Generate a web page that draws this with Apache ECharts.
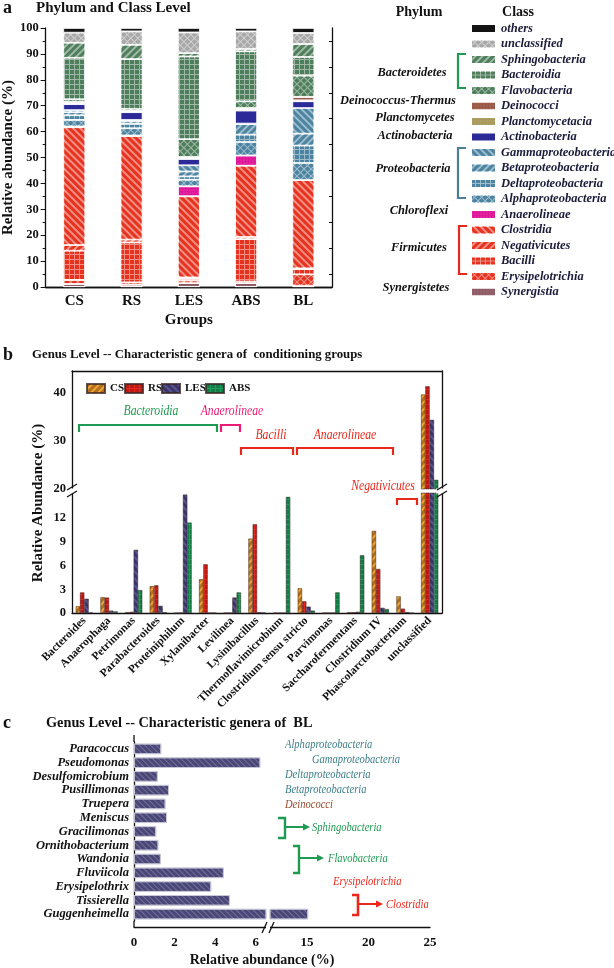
<!DOCTYPE html>
<html><head><meta charset="utf-8">
<script src="https://cdn.jsdelivr.net/npm/echarts@6/dist/echarts.min.js"></script>
<style>html,body{margin:0;padding:0;background:#fff}#c{width:614px;height:968px}</style>
</head><body><div id="c"></div>
<script>
// ---------------- DATA ----------------
// Panel a: class-level relative abundance (%), stacked bottom -> top
const groupsA = ['CS', 'RS', 'LES', 'ABS', 'BL'];
const classNames = ['Synergistia', 'Erysipelotrichia', 'Bacilli', 'Negativicutes', 'Clostridia', 'Anaerolineae',
  'Alphaproteobacteria', 'Deltaproteobacteria', 'Betaproteobacteria', 'Gammaproteobacteria', 'Actinobacteria',
  'Planctomycetacia', 'Deinococci', 'Flavobacteria', 'Bacteroidia', 'Sphingobacteria', 'unclassified', 'others'];
const classCS  = [1.2, 1.5, 11.3, 2.2, 45.5, 0.3, 2.5, 1.8, 1.2, 0.8, 2.3, 0.3, 0.6, 1.0, 16.0, 5.8, 3.9, 1.8];
const classRS  = [0.9, 0.9, 15.4, 1.1, 40.0, 0.2, 2.8, 1.8, 1.0, 0.4, 3.0, 0.3, 0.3, 0.7, 19.2, 5.5, 5.2, 1.3];
const classLES = [1.5, 1.0, 0.8, 0.4, 31.3, 3.9, 2.5, 1.3, 1.9, 2.4, 2.4, 0.4, 0.4, 6.9, 31.9, 1.3, 8.0, 1.7];
const classABS = [1.5, 0.6, 16.4, 0.8, 27.5, 4.0, 5.2, 2.8, 4.1, 0.2, 5.0, 0.5, 0.5, 2.6, 19.3, 0.9, 6.8, 1.3];
const classBL  = [0.5, 4.4, 2.0, 0.3, 34.1, 0.0, 6.6, 6.7, 4.6, 9.9, 2.6, 0.3, 1.4, 8.2, 7.2, 5.0, 4.3, 1.9];
const phylumLabels = ['Bacteroidetes', 'Deinococcus-Thermus', 'Planctomycetes', 'Actinobacteria', 'Proteobacteria', 'Chloroflexi', 'Firmicutes', 'Synergistetes'];

// Panel b: genus-level, conditioning groups (%)
const genera = ['Bacteroides', 'Anaerophaga', 'Petrimonas', 'Parabacteroides', 'Proteiniphilum', 'Xylanibacter',
  'Levilinea', 'Lysinibacillus', 'Thermoflavimicrobium', 'Clostridium sensu stricto', 'Parvimonas',
  'Saccharofermentans', 'Clostridium IV', 'Phascolarctobacterium', 'unclassified'];
const groupsB = ['CS', 'RS', 'LES', 'ABS'];
const genusCS  = [0.85, 2.0, 0.1, 3.4, 0, 4.27, 0, 9.42, 0, 3.13, 0, 0.1, 10.4, 2.1, 39.7];
const genusRS  = [2.6, 1.95, 0.15, 3.5, 0, 6.17, 0, 11.24, 0, 1.48, 0, 0.1, 5.58, 0.55, 41.4];
const genusLES = [1.8, 0.3, 8.0, 0.9, 15.0, 0, 1.95, 0.1, 0, 0.8, 0, 0.15, 0.65, 0.1, 34.4];
const genusABS = [0.05, 0.2, 2.9, 0.1, 11.45, 0, 2.6, 0.05, 14.7, 0.3, 2.6, 7.3, 0.5, 0, 21.9];
const bTicksLower = [0, 3, 6, 9, 12];
const bTicksUpper = [20, 30, 40];

// Panel c: genus-level, BL (%)
const generaBL = ['Paracoccus', 'Pseudomonas', 'Desulfomicrobium', 'Pusillimonas', 'Truepera', 'Meniscus',
  'Gracilimonas', 'Ornithobacterium', 'Wandonia', 'Fluviicola', 'Erysipelothrix', 'Tissierella', 'Guggenheimella'];
const abundBL = [1.34, 6.22, 1.17, 1.72, 1.55, 1.62, 1.09, 1.2, 1.32, 4.42, 3.8, 4.72, 15.1];
const cTicksLeft = [0, 2, 4, 6];
const cTicksRight = [15, 20, 25];

// ---------------- STYLE ----------------
const SERIF = '"Liberation Serif","Times New Roman",serif';
const F = (w, s, sz) => `${s} ${w} ${sz}px "Liberation Serif"`;
function tint(hex, t) {
  const n = parseInt(hex.slice(1), 16);
  const r = n >> 16, g = (n >> 8) & 255, b = n & 255;
  const m = c => Math.round(c + (255 - c) * t);
  return `rgb(${m(r)},${m(g)},${m(b)})`;
}
function decal(kind, color) {
  switch (kind) {
    case 'fwd': return { symbol: 'rect', symbolSize: 1, dashArrayX: [1, 0], dashArrayY: [3, 1.2], rotation: Math.PI / 4, color };
    case 'back': return { symbol: 'rect', symbolSize: 1, dashArrayX: [1, 0], dashArrayY: [3, 1.2], rotation: -Math.PI / 4, color };
    case 'grid': return { symbol: 'rect', symbolSize: 1, dashArrayX: [3.5, 1], dashArrayY: [3.5, 1], rotation: 0, color };
    case 'cross': return { symbol: 'rect', symbolSize: 1, dashArrayX: [3.5, 1], dashArrayY: [3.5, 1], rotation: Math.PI / 4, color };
    case 'dots': return { symbol: 'circle', symbolSize: 0.5, dashArrayX: [2, 1], dashArrayY: [2, 1], rotation: 0, color };
  }
  return null;
}
const GREEN = '#4f7e5c', TEAL = '#4b83a0', RED = '#e5331f';
const classColors = ['#8e5a66', RED, RED, RED, RED, '#e0169a', TEAL, TEAL, TEAL, TEAL, '#2c2a99',
  '#a99a5c', '#9c5846', GREEN, GREEN, GREEN, '#a8a8a8', '#141414'];
const classPatterns = ['dots', 'cross', 'grid', 'back', 'fwd', 'dots', 'cross', 'grid', 'back', 'fwd', 'none',
  'dots', 'dots', 'cross', 'grid', 'back', 'cross', 'none'];

function classItemStyle(i) {
  const c = classColors[i], p = classPatterns[i];
  if (p === 'none') return { color: c, borderColor: '#fff', borderWidth: 0.8 };
  if (p === 'dots') return { color: c, borderColor: '#fff', borderWidth: 0.8, decal: decal('dots', 'rgba(255,255,255,0.35)') };
  return { color: tint(c, 0.45), borderColor: '#fff', borderWidth: 0.8, decal: decal(p, c) };
}

// ---------------- SERIES ----------------
const groupArrays = [classCS, classRS, classLES, classABS, classBL];
const series = [];
classNames.forEach((name, i) => {
  series.push({
    name, type: 'bar', stack: 'a', xAxisIndex: 0, yAxisIndex: 0, barWidth: 22,
    data: groupArrays.map(g => g[i]), itemStyle: classItemStyle(i), emphasis: { disabled: true }
  });
});

const bArrays = [genusCS, genusRS, genusLES, genusABS];
const bColors = ['#f2a233', '#e3281f', '#5a558f', '#1f9f5e'];
const bDecals = [
  decal('back', 'rgba(90,50,0,0.45)'),
  decal('grid', 'rgba(120,0,0,0.35)'),
  decal('fwd', 'rgba(20,15,60,0.45)'),
  decal('grid', 'rgba(0,60,20,0.35)')
];
groupsB.forEach((name, i) => {
  const common = {
    name, type: 'bar', barWidth: 4.3, barGap: '0%', emphasis: { disabled: true },
    itemStyle: { color: bColors[i], borderColor: 'rgba(60,40,40,0.55)', borderWidth: 0.5, decal: bDecals[i] }
  };
  series.push(Object.assign({}, common, { xAxisIndex: 4, yAxisIndex: 4, data: bArrays[i].slice() }));
  series.push(Object.assign({}, common, { xAxisIndex: 2, yAxisIndex: 2, data: bArrays[i].map(v => (v > 20 ? v : null)) }));
});

const cStyle = { color: '#4a4778', borderColor: '#c8c8d8', borderWidth: 0.8,
  decal: { symbol: 'rect', symbolSize: 1, dashArrayX: [1, 0], dashArrayY: [1, 3], rotation: Math.PI / 4, color: 'rgba(255,255,255,0.22)' } };
series.push({ name: 'BL', type: 'bar', xAxisIndex: 5, yAxisIndex: 6, barWidth: 10.5, data: abundBL.slice(), itemStyle: cStyle, emphasis: { disabled: true } });
series.push({ name: 'BL', type: 'bar', xAxisIndex: 6, yAxisIndex: 7, barWidth: 10.5, data: abundBL.map(v => (v > 12 ? v : null)), itemStyle: cStyle, emphasis: { disabled: true } });

// ---------------- AXES ----------------
const lineS = { show: true, lineStyle: { color: '#111', width: 1.3 } };
const lblS = (sz) => ({ fontFamily: SERIF, fontWeight: 'bold', fontSize: sz, color: '#111' });

const xAxis = [
  { gridIndex: 0, type: 'category', data: groupsA, axisLine: lineS, axisTick: { inside: true, length: 4, lineStyle: { color: '#111' } },
    axisLabel: Object.assign(lblS(15), { margin: 7 }), name: 'Groups', nameLocation: 'middle', nameGap: 26,
    nameTextStyle: lblS(15) },
  { gridIndex: 0, type: 'category', data: groupsA, position: 'top', axisLine: lineS, axisTick: { show: false }, axisLabel: { show: false } },
  { gridIndex: 1, type: 'category', data: genera, position: 'top', axisLine: lineS, axisTick: { show: false }, axisLabel: { show: false } },
  { gridIndex: 1, type: 'category', data: genera, position: 'bottom', show: false },
  { gridIndex: 2, type: 'category', data: genera, axisLine: lineS, axisTick: { inside: true, length: 3, lineStyle: { color: '#111' } },
    axisLabel: Object.assign(lblS(11.5), { rotate: 45, margin: 6, interval: 0 }) },
  { gridIndex: 3, type: 'value', min: 0, max: 6.5, offset: 6, axisLine: lineS, splitLine: { show: false },
    axisTick: { inside: true, length: 5, customValues: [0, 1, 2, 3, 4, 5, 6], lineStyle: { color: '#111' } },
    axisLabel: Object.assign(lblS(13), { customValues: cTicksLeft, margin: 9 }) },
  { gridIndex: 4, type: 'value', min: 12, max: 25, offset: 6, axisLine: lineS, splitLine: { show: false },
    axisTick: { inside: true, length: 5, customValues: [12.5, 15, 17.5, 20, 22.5, 25], lineStyle: { color: '#111' } },
    axisLabel: Object.assign(lblS(13), { customValues: cTicksRight, margin: 9 }) }
];
const yAxis = [
  { gridIndex: 0, type: 'value', min: 0, max: 100, interval: 10, axisLine: lineS, splitLine: { show: false },
    axisTick: { show: true, length: 5, lineStyle: { color: '#111' } },
    minorTick: { show: true, splitNumber: 2, length: 3, lineStyle: { color: '#111' } },
    axisLabel: Object.assign(lblS(12.5), { margin: 7 }),
    name: 'Relative abundance (%)', nameLocation: 'middle', nameGap: 20, nameTextStyle: lblS(15) },
  { gridIndex: 0, type: 'value', min: 0, max: 100, interval: 10, position: 'right', axisLine: lineS, splitLine: { show: false },
    axisTick: { inside: true, length: 5, lineStyle: { color: '#111' } },
    minorTick: { show: true, splitNumber: 2, length: 3, lineStyle: { color: '#111' } }, axisLabel: { show: false } },
  { gridIndex: 1, type: 'value', min: 20, max: 44.6, axisLine: lineS, splitLine: { show: false },
    axisTick: { inside: true, length: 5, customValues: [20, 25, 30, 35, 40], lineStyle: { color: '#111' } },
    axisLabel: Object.assign(lblS(12.5), { customValues: bTicksUpper, margin: 6 }) },
  { gridIndex: 1, type: 'value', min: 20, max: 44.6, position: 'right', axisLine: lineS, splitLine: { show: false },
    axisTick: { inside: true, length: 5, customValues: [20, 25, 30, 35, 40], lineStyle: { color: '#111' } }, axisLabel: { show: false } },
  { gridIndex: 2, type: 'value', min: 0, max: 15.2, axisLine: lineS, splitLine: { show: false },
    axisTick: { inside: true, length: 5, customValues: [0, 1.5, 3, 4.5, 6, 7.5, 9, 10.5, 12, 13.5], lineStyle: { color: '#111' } },
    axisLabel: Object.assign(lblS(12.5), { customValues: bTicksLower, margin: 6 }) },
  { gridIndex: 2, type: 'value', min: 0, max: 15.2, position: 'right', axisLine: lineS, splitLine: { show: false },
    axisTick: { inside: true, length: 5, customValues: [0, 1.5, 3, 4.5, 6, 7.5, 9, 10.5, 12, 13.5], lineStyle: { color: '#111' } }, axisLabel: { show: false } },
  { gridIndex: 3, type: 'category', data: generaBL, inverse: true, axisLine: lineS, axisTick: { show: false },
    axisLabel: { fontFamily: SERIF, fontWeight: 'bold', fontStyle: 'italic', fontSize: 12.5, color: '#111', margin: 5, interval: 0 } },
  { gridIndex: 4, type: 'category', data: generaBL, inverse: true, show: false }
];

// ---------------- GRAPHICS ----------------
const G = [];
function txt(text, x, y, font, fill, align, valign, rot, sx) {
  G.push({ type: 'text', x, y, rotation: rot || 0, scaleX: sx || 1, z: 50,
    style: { text, font, fill: fill || '#111', textAlign: align || 'left', textVerticalAlign: valign || 'middle' } });
}
function pl(points, stroke, w) {
  G.push({ type: 'polyline', z: 50, shape: { points }, style: { stroke, lineWidth: w || 2.2, fill: null } });
}
function arrow(x1, x2, y, color) {
  pl([[x1, y], [x2 - 5, y]], color, 2);
  G.push({ type: 'polygon', z: 50, shape: { points: [[x2 - 7, y - 3.5], [x2, y], [x2 - 7, y + 3.5]] }, style: { fill: color } });
}
// titles
txt('a', 3, 8, F('bold', 'normal', 18), '#111');
txt('Phylum and Class Level', 36, 8, F('bold', 'normal', 15), '#111');
txt('b', 3, 355, F('bold', 'normal', 18), '#111');
txt('Genus Level -- Characteristic genera of  conditioning groups', 32, 355, F('bold', 'normal', 12.8), '#111');
txt('c', 3, 723, F('bold', 'normal', 18), '#111');
txt('Genus Level -- Characteristic genera of  BL', 46, 723, F('bold', 'normal', 14.3), '#111');
// panel a legend headers & phylum labels
txt('Phylum', 419, 12, F('bold', 'normal', 14), '#111', 'center');
txt('Class', 518, 12, F('bold', 'normal', 14), '#111', 'center');
const phylumX = [412, 398, 415, 415, 413, 419, 419, 416];
const phylumY = [73, 101, 118, 136, 169, 211, 248, 288];
phylumLabels.forEach((p, i) => txt(p, phylumX[i], phylumY[i], F('bold', 'italic', 12.8), '#111', 'center', 'middle', 0, 0.97));
// panel a brackets
pl([[466, 54], [458, 54], [458, 88], [466, 88]], '#1e9a52', 2.2);
pl([[466, 148], [458, 148], [458, 198], [466, 198]], '#4b7f94', 2.2);
pl([[467, 226], [459, 226], [459, 274], [467, 274]], '#e8281c', 2.2);
// panel b annotations
const bF = F('normal', 'italic', 15);
const bS = 0.78;
txt('Bacteroidia', 151, 411, bF, '#1e9a52', 'center', 'middle', 0, bS);
pl([[79, 432], [79, 425], [217, 425], [217, 432]], '#1e9a52', 2.2);
txt('Anaerolineae', 232, 411, bF, '#ec1c74', 'center', 'middle', 0, bS);
pl([[221, 432], [221, 425], [240, 425], [240, 432]], '#ec1c74', 2.2);
txt('Bacilli', 271, 435, bF, '#e8281c', 'center', 'middle', 0, bS);
pl([[241, 455], [241, 448], [293, 448], [293, 455]], '#e8281c', 2.2);
txt('Anaerolineae', 345, 435, bF, '#e8281c', 'center', 'middle', 0, bS);
pl([[297, 455], [297, 448], [393, 448], [393, 455]], '#e8281c', 2.2);
txt('Negativicutes', 383, 486, bF, '#e8281c', 'center', 'middle', 0, bS);
pl([[397, 505], [397, 499], [417, 499], [417, 505]], '#e8281c', 2.2);
txt('Relative Abundance (%)', 38, 503, F('bold', 'normal', 15), '#111', 'center', 'middle', Math.PI / 2);
// axis break marks panel b
[72, 442].forEach(x => {
  G.push({ type: 'rect', z: 49, shape: { x: x - 6, y: 488.5, width: 12, height: 5 }, style: { fill: '#fff' } });
  pl([[x - 5, 490], [x + 5, 484]], '#111', 1.3);
  pl([[x - 5, 497], [x + 5, 491]], '#111', 1.3);
});
// panel c annotations
const tealC = '#3d7f86';
const cF = F('normal', 'italic', 13.5);
const cS = 0.78;
txt('Alphaproteobacteria', 285, 744, cF, tealC, 'left', 'middle', 0, cS);
txt('Gamaproteobacteria', 312, 759, cF, tealC, 'left', 'middle', 0, cS);
txt('Deltaproteobacteria', 285, 774, cF, tealC, 'left', 'middle', 0, cS);
txt('Betaproteobacteria', 285, 789, cF, tealC, 'left', 'middle', 0, cS);
txt('Deinococci', 285, 804, cF, '#9a4a2e', 'left', 'middle', 0, cS);
pl([[278, 818], [285, 818], [285, 838], [278, 838]], '#1e9a52', 2.4);
arrow(285, 310, 827, '#1e9a52');
txt('Sphingobacteria', 312, 827, cF, '#1e9a52', 'left', 'middle', 0, cS);
pl([[293, 846], [299, 846], [299, 873], [293, 873]], '#1e9a52', 2.4);
arrow(299, 324, 858, '#1e9a52');
txt('Flavobacteria', 328, 858, cF, '#1e9a52', 'left', 'middle', 0, cS);
txt('Erysipelotrichia', 333, 881, cF, '#e8281c', 'left', 'middle', 0, cS);
pl([[352, 895], [358, 895], [358, 915], [352, 915]], '#e8281c', 2.6);
arrow(358, 383, 904, '#e8281c');
txt('Clostridia', 386, 904, cF, '#e8281c', 'left', 'middle', 0, cS);
txt('Relative abundance (%)', 262, 960, F('bold', 'normal', 14), '#111', 'center');
// extend panel c y-axis line to meet the offset x-axis
pl([[134, 735], [134, 742]], '#111', 1.3);
pl([[134, 921], [134, 927]], '#111', 1.3);
// axis break panel c
G.push({ type: 'rect', z: 49, shape: { x: 266, y: 924, width: 4, height: 6 }, style: { fill: '#fff' } });
pl([[262, 933], [267, 922]], '#111', 1.3);
pl([[269, 933], [274, 922]], '#111', 1.3);

// ---------------- OPTION ----------------
const legendBLeft = [86, 124, 161, 205];
const legends = [
  { data: classNames.slice().reverse(), orient: 'vertical', left: 470, top: 21.5, padding: 0,
    itemWidth: 25, itemHeight: 9, itemGap: 1.5, icon: 'rect', selectedMode: false,
    textStyle: { fontFamily: SERIF, fontWeight: 'bold', fontStyle: 'italic', fontSize: 12.5, lineHeight: 14, color: '#1b1b3a' } }
];
groupsB.forEach((g, i) => legends.push({
  data: [g], orient: 'horizontal', left: legendBLeft[i], top: 383, padding: 0, itemWidth: 18, itemHeight: 9,
  icon: 'rect', selectedMode: false,
  textStyle: { fontFamily: SERIF, fontWeight: 'bold', fontSize: 11, color: '#111' }
}));
const option = {
  animation: false,
  backgroundColor: '#fff',
  textStyle: { fontFamily: SERIF },
  grid: [
    { left: 40, top: 28, width: 292, height: 259 },
    { left: 72, top: 371, width: 370, height: 118 },
    { left: 72, top: 493, width: 370, height: 120 },
    { left: 134, top: 742, width: 132, height: 179 },
    { left: 270, top: 742, width: 160, height: 179 }
  ],
  legend: legends,
  xAxis, yAxis, series, graphic: G
};
const chart = echarts.init(document.getElementById('c'), null, { renderer: 'canvas' });
chart.setOption(option);
</script></body></html>
